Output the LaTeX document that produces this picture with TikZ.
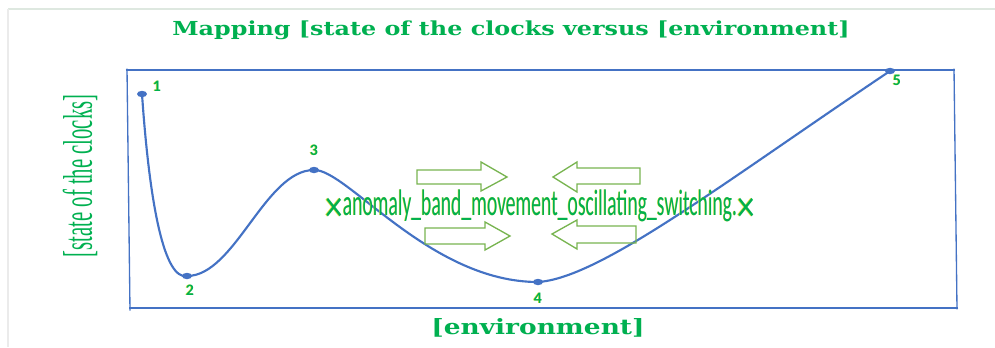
\documentclass[tikz,border=0pt]{standalone}
\usepackage{fontspec}
\usepackage{graphicx}
\newfontfamily\widefont{DejaVu Serif}
\newfontfamily\narrowfont{Liberation Serif}
\newfontfamily\calfont{Carlito}
\definecolor{txtgreen}{RGB}{0,176,80}
\definecolor{arrgreen}{RGB}{120,180,80}
\definecolor{lineblue}{RGB}{68,114,196}
\definecolor{shadowyellow}{RGB}{225,225,60}
\definecolor{framegray}{RGB}{222,232,224}
\newcommand{\bigtimes}{\raisebox{-0.15em}{\scalebox{1.8}[1.2]{×}}}
\tikzset{
  frameline/.style={draw=framegray, line width=0.9pt},
  boxline/.style={draw=lineblue, line width=1pt},
  curveline/.style={draw=lineblue, line width=1.6pt, line cap=round},
  dotmark/.style={fill=lineblue, draw=none},
  blockarrow/.style={draw=arrgreen, line width=1pt, line join=miter},
  numlabel/.style={text=txtgreen, font=\calfont\bfseries\fontsize{12pt}{12pt}\selectfont, inner sep=0pt},
  numshadow/.style={text=shadowyellow, font=\calfont\bfseries\fontsize{12pt}{12pt}\selectfont, inner sep=0pt},
  titletext/.style={text=txtgreen, inner sep=0pt},
}
\begin{document}
\begin{tikzpicture}[x=0.75pt, y=-0.75pt]
\useasboundingbox (0,0) rectangle (995,347);
% faint page frame
\draw[frameline] (8,9) -- (995,9);
\draw[draw=black!8, line width=0.9pt] (8,9) -- (8,347);
% plot box
\coordinate (tl) at (127,70);
\coordinate (tr) at (954,70);
\coordinate (br) at (957,308);
\coordinate (bl) at (130,308);
\draw[boxline] ([xshift=-1pt]tl) -- ([xshift=1pt]tr);
\draw[boxline] ([yshift=1pt]tr) -- ([yshift=-1pt]br);
\draw[boxline] ([xshift=1pt]br) -- ([xshift=-1pt]bl);
\draw[boxline] ([yshift=-2pt]bl) -- ([yshift=1pt]tl);
% curve points
\coordinate (p1) at (142,94);
\coordinate (p2) at (187,276);
\coordinate (p3) at (314,170);
\coordinate (p4) at (538,282);
\coordinate (p5) at (890,71);
\draw[curveline] (p1) .. controls (150,210) and (165,280) .. (p2)
  .. controls (235,276) and (265,170) .. (p3)
  .. controls (347,169) and (430,282) .. (p4)
  .. controls (600,278) and (720,185) .. (p5);
\foreach \p in {p1,p2,p3,p4,p5}{\fill[dotmark] (\p) ellipse (5 and 3.2);}
% point labels
\foreach \n/\x/\y in {1/157/86, 2/190/290, 3/314/150, 4/538/298, 5/897/80}{
  \node[numshadow] at (\x-0.8,\y) {\n};
  \node[numlabel] (l\n) at (\x,\y) {\n};
}
% title and axis labels
\node[titletext] (title) at (511,30) {\resizebox{508pt}{11pt}{\widefont\bfseries Mapping [state of the clocks versus [environment]}};
\node[titletext] (xlab) at (538,328) {\resizebox{160pt}{12pt}{\widefont\bfseries [environment]}};
\node[titletext, rotate=90] (ylab) at (80,176) {\resizebox*{122pt}{26pt}{\narrowfont [state of the clocks]}};
% block arrows
\draw[blockarrow] (417,170) -- (481,170) -- (481,162) -- (507,177) -- (481,191) -- (481,184) -- (417,184) -- cycle;
\draw[blockarrow] (640,168) -- (577,168) -- (577,162) -- (553,177) -- (577,192) -- (577,184) -- (640,184) -- cycle;
\draw[blockarrow] (425,228) -- (485,228) -- (485,222) -- (510,236) -- (485,250) -- (485,244) -- (425,244) -- cycle;
\draw[blockarrow] (636,226) -- (577,226) -- (577,220) -- (552,234) -- (577,249) -- (577,243) -- (636,243) -- cycle;
% middle text
\node[text=shadowyellow, inner sep=0pt] at (539.5,206) {\resizebox*{322pt}{24pt}{\calfont \bigtimes anomaly\_band\_movement\_oscillating\_switching.\bigtimes}};
\node[text=txtgreen, inner sep=0pt] (mid) at (540,206) {\resizebox*{322pt}{24pt}{\calfont \bigtimes anomaly\_band\_movement\_oscillating\_switching.\bigtimes}};
\end{tikzpicture}
\end{document}
